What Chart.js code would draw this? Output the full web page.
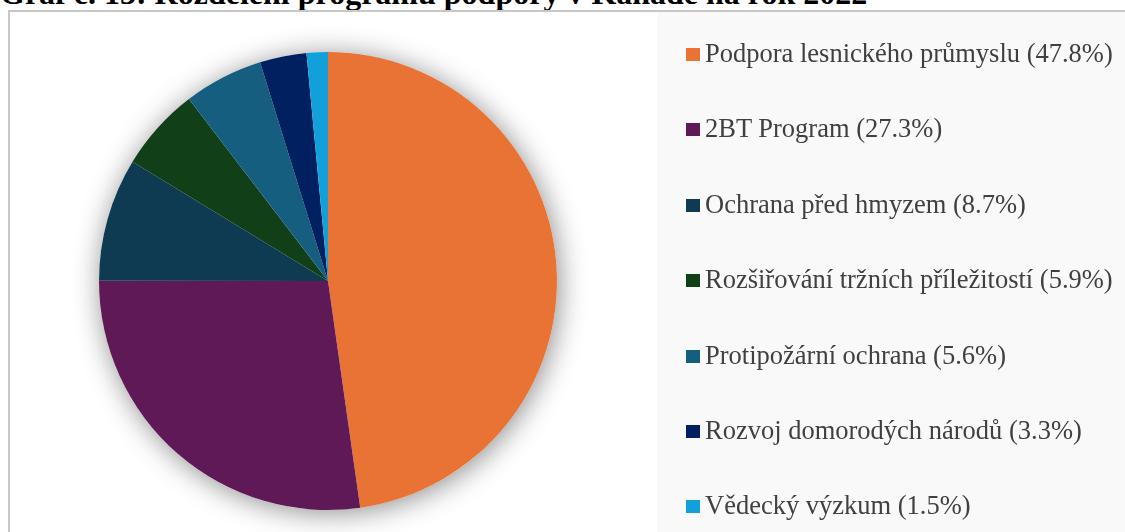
<!DOCTYPE html>
<html lang="cs">
<head>
<meta charset="utf-8">
<title>Graf č. 13</title>
<script src="https://cdn.jsdelivr.net/npm/chart.js@4/dist/chart.umd.min.js"></script>
<style>
  html, body { margin: 0; padding: 0; background: #fff; }
  body { width: 1125px; height: 532px; position: relative; overflow: hidden; }
  #title { position: absolute; left: 0; top: -23px; font-family: "Liberation Serif", "DejaVu Serif", serif; font-weight: bold; font-size: 32px; line-height: 32px; color: #000; white-space: nowrap; }
  #frame { position: absolute; left: 8px; top: 10px; width: 1130px; height: 540px; border-top: 2px solid #c8c8c8; border-left: 2px solid #c8c8c8; background: #fff; }
  #legend-bg { position: absolute; left: 657px; top: 12px; right: 0; bottom: 0; background: #f9f9f9; }
  #pie { position: absolute; left: 0; top: 0; }
  #legend { position: absolute; left: 686px; top: 0; }
  .item { position: absolute; left: 0; white-space: nowrap; font-family: "Liberation Serif", "DejaVu Serif", serif; font-size: 26.5px; color: #404040; height: 30px; line-height: 30px; }
  .box { display: inline-block; width: 14px; height: 13px; margin-right: 5px; vertical-align: 1px; }
</style>
</head>
<body>
<div id="title">Graf č. 13: Rozdělení programu podpory v Kanadě na rok 2022</div>
<div id="frame"></div>
<div id="legend-bg"></div>
<canvas id="pie" width="1125" height="532"></canvas>
<div id="legend"></div>
<script>
  const categories = [
    'Podpora lesnického průmyslu',
    '2BT Program',
    'Ochrana před hmyzem',
    'Rozšiřování tržních příležitostí',
    'Protipožární ochrana',
    'Rozvoj domorodých národů',
    'Vědecký výzkum'
  ];
  const shares = [47.8, 27.3, 8.7, 5.9, 5.6, 3.3, 1.5];
  const sliceColors = ['#e97334', '#5f1956', '#0e3a52', '#113f18', '#165e80', '#002060', '#11a0d9'];

  // soft shadow behind the whole pie, drawn once before the slices
  const pieShadow = {
    id: 'pieShadow',
    beforeDatasetsDraw(chart) {
      const arc = chart.getDatasetMeta(0).data[0];
      if (!arc) return;
      const ctx = chart.ctx;
      ctx.save();
      ctx.shadowColor = 'rgba(0, 0, 0, 0.45)';
      ctx.shadowBlur = 28;
      ctx.shadowOffsetX = 2;
      ctx.shadowOffsetY = 3;
      ctx.fillStyle = '#ffffff';
      ctx.beginPath();
      ctx.arc(arc.x, arc.y, arc.outerRadius, 0, Math.PI * 2);
      ctx.fill();
      ctx.restore();
    }
  };

  new Chart(document.getElementById('pie'), {
    type: 'pie',
    data: {
      labels: categories,
      datasets: [{
        data: shares,
        backgroundColor: sliceColors,
        borderWidth: 0
      }]
    },
    options: {
      responsive: false,
      animation: false,
      layout: { padding: { left: 99, right: 568, top: 52, bottom: 22 } },
      plugins: {
        legend: { display: false },
        tooltip: { enabled: false }
      }
    },
    plugins: [pieShadow]
  });

  // legend on the grey panel
  const legend = document.getElementById('legend');
  categories.forEach((name, i) => {
    const row = document.createElement('div');
    row.className = 'item';
    row.style.top = (38 + i * 75.4) + 'px';
    const box = document.createElement('span');
    box.className = 'box';
    box.style.background = sliceColors[i];
    row.appendChild(box);
    row.appendChild(document.createTextNode(name + ' (' + shares[i].toFixed(1) + '%)'));
    legend.appendChild(row);
  });
</script>
</body>
</html>
